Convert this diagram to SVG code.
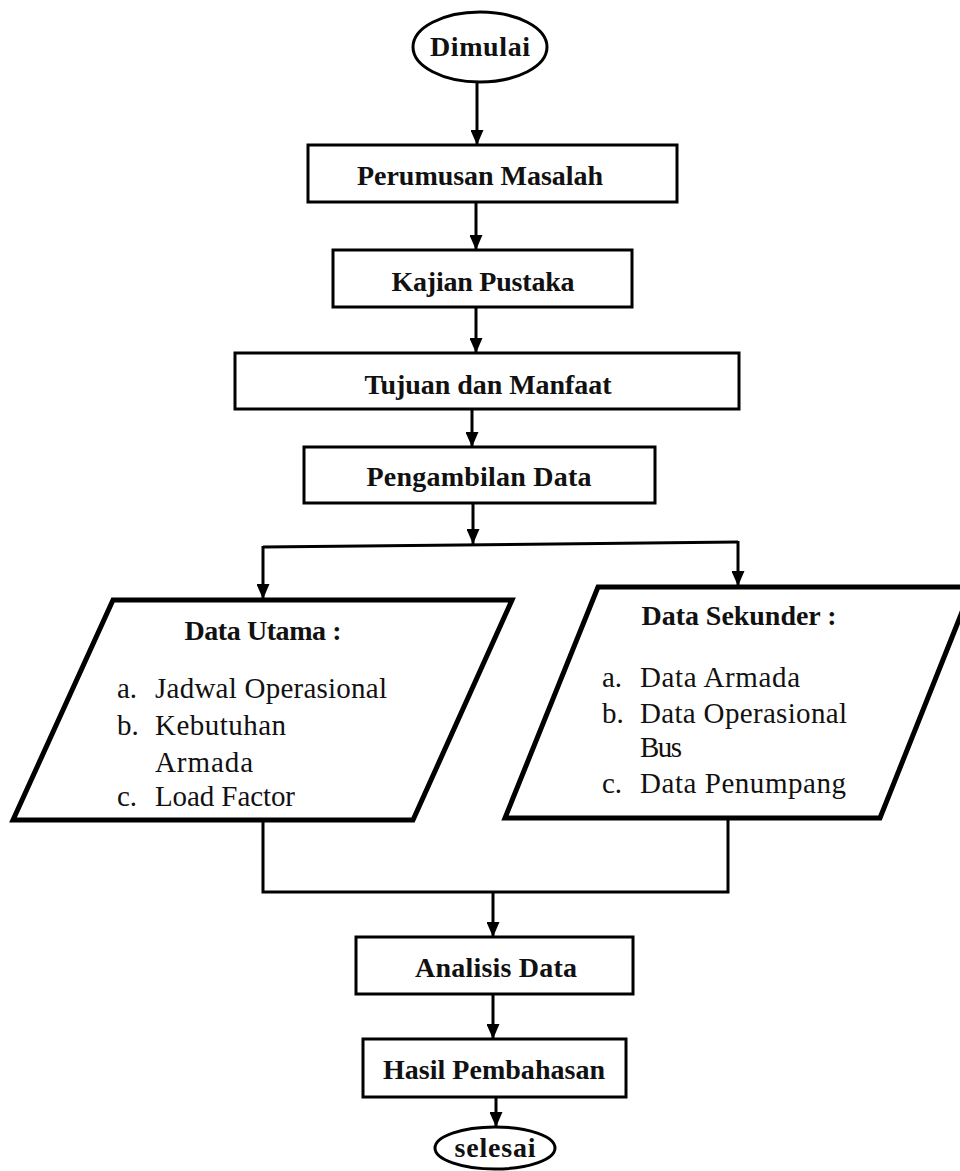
<svg xmlns="http://www.w3.org/2000/svg" width="960" height="1171" viewBox="0 0 960 1171">
<style>
.shape{fill:#fff;stroke:#000;stroke-width:3;stroke-linejoin:miter}
.para{fill:#fff;stroke:#000;stroke-width:5;stroke-linejoin:miter}
.b{font-family:"Liberation Serif","Times New Roman",serif;font-weight:bold;font-size:28px;fill:#111;text-anchor:middle}
.r{font-family:"Liberation Serif","Times New Roman",serif;font-size:29px;fill:#111}
.c{fill:none;stroke:#000;stroke-width:3}
</style>
<defs>
<marker id="ah" markerUnits="userSpaceOnUse" markerWidth="15" markerHeight="13" refX="15" refY="6.5" orient="auto">
<path d="M0,0 L15,6.5 L0,13 z" fill="#000"/>
</marker>
</defs>
<rect width="960" height="1171" fill="#fff"/>
<g id="connectors">
<path class="c" d="M477,83 L477,145" marker-end="url(#ah)"/>
<path class="c" d="M476,202 L476,250" marker-end="url(#ah)"/>
<path class="c" d="M476,307 L476,353" marker-end="url(#ah)"/>
<path class="c" d="M472,409 L472,447" marker-end="url(#ah)"/>
<path class="c" d="M473,503 L473,544" marker-end="url(#ah)"/>
<path class="c" d="M263,547 L738,542"/>
<path class="c" d="M263,546 L263,599" marker-end="url(#ah)"/>
<path class="c" d="M738,541 L738,586" marker-end="url(#ah)"/>
<path class="c" d="M263,820 L263,892 L728,892 L728,818"/>
<path class="c" d="M493,892 L493,937" marker-end="url(#ah)"/>
<path class="c" d="M493,994 L493,1039" marker-end="url(#ah)"/>
<path class="c" d="M496,1097 L496,1127" marker-end="url(#ah)"/>
</g>
<g id="dimulai">
<ellipse class="shape" cx="480" cy="47" rx="67" ry="35"/>
<text class="b" x="480" y="56" textLength="100">Dimulai</text>
</g>
<g id="perumusan">
<rect class="shape" x="308" y="145" width="369" height="57"/>
<text class="b" x="480" y="185" textLength="246">Perumusan Masalah</text>
</g>
<g id="kajian">
<rect class="shape" x="333" y="250" width="299" height="57"/>
<text class="b" x="483" y="291" textLength="183">Kajian Pustaka</text>
</g>
<g id="tujuan">
<rect class="shape" x="235" y="353" width="504" height="56"/>
<text class="b" x="488" y="394" textLength="247">Tujuan dan Manfaat</text>
</g>
<g id="pengambilan">
<rect class="shape" x="304" y="447" width="351" height="56"/>
<text class="b" x="479" y="486" textLength="225">Pengambilan Data</text>
</g>
<g id="data-utama">
<polygon class="para" points="113,600 512,600 413,820 13,820"/>
<text class="b" x="263" y="640" textLength="157">Data Utama :</text>
<text class="r" x="117" y="698">a.</text>
<text class="r" x="155" y="698" textLength="232">Jadwal Operasional</text>
<text class="r" x="117" y="735">b.</text>
<text class="r" x="155" y="735" textLength="131">Kebutuhan</text>
<text class="r" x="155" y="772" textLength="98">Armada</text>
<text class="r" x="117" y="806">c.</text>
<text class="r" x="155" y="806" textLength="140">Load Factor</text>
</g>
<g id="data-sekunder">
<polygon class="para" points="598,587 972,587 880,818 505,818"/>
<text class="b" x="739" y="625" textLength="195">Data Sekunder :</text>
<text class="r" x="602" y="687">a.</text>
<text class="r" x="640" y="687" textLength="160">Data Armada</text>
<text class="r" x="602" y="723">b.</text>
<text class="r" x="640" y="723" textLength="207">Data Operasional</text>
<text class="r" x="640" y="757" textLength="42">Bus</text>
<text class="r" x="602" y="793">c.</text>
<text class="r" x="640" y="793" textLength="206">Data Penumpang</text>
</g>
<g id="analisis">
<rect class="shape" x="356" y="937" width="277" height="57"/>
<text class="b" x="496" y="977" textLength="162">Analisis Data</text>
</g>
<g id="hasil">
<rect class="shape" x="363" y="1039" width="263" height="58"/>
<text class="b" x="494" y="1079" textLength="222">Hasil Pembahasan</text>
</g>
<g id="selesai">
<ellipse class="shape" cx="495" cy="1148" rx="60" ry="21"/>
<text class="b" x="495" y="1157" textLength="81">selesai</text>
</g>
</svg>
